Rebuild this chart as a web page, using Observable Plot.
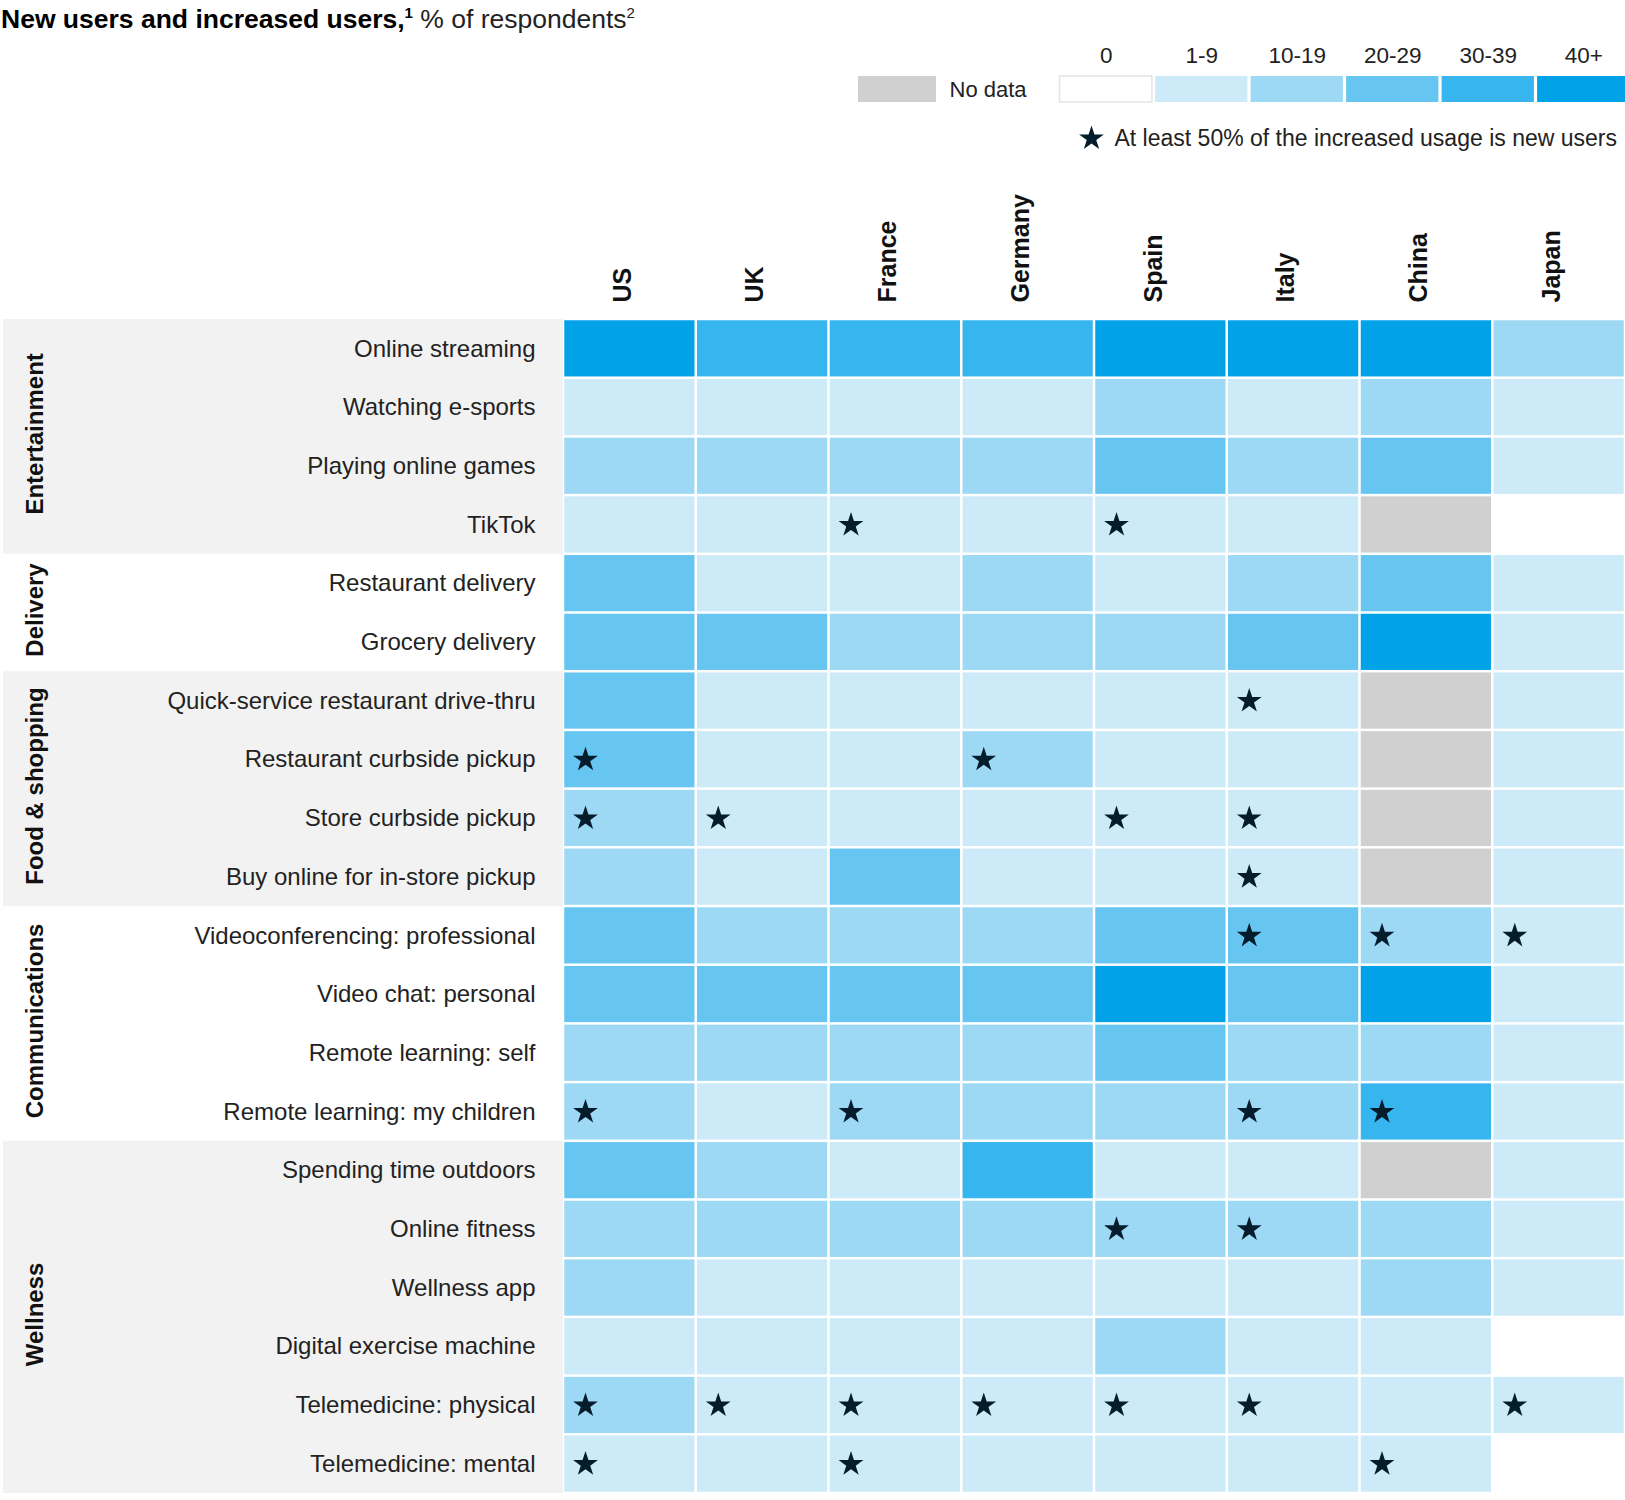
<!DOCTYPE html>
<html>
<head>
<meta charset="utf-8">
<script src="https://cdn.jsdelivr.net/npm/d3@7"></script>
<script src="https://cdn.jsdelivr.net/npm/@observablehq/plot@0.6"></script>
<style>
html, body { margin: 0; padding: 0; background: #fff; overflow: hidden; }
#wrap { position: relative; width: 1625px; height: 1500px; overflow: hidden; background: #fff; }
#wrap > div { position: absolute; }
#wrap svg { display: block; max-width: none !important; }
#title { left: 1px; top: 4px; font-family: "Liberation Sans", Arial, sans-serif; font-size: 26.5px; line-height: 30px; color: #000; white-space: nowrap; }
#title b { font-weight: bold; }
#title sup { font-size: 15px; vertical-align: 10px; line-height: 0; }
#title .light { font-weight: normal; color: #222; }
#main { left: 0; top: 0; }
#legNoData { left: 858px; top: 60px; }
#legBins { left: 1058px; top: 30px; }
#legStar { left: 1076px; top: 118px; }
</style>
</head>
<body>
<div id="wrap">
  <div id="main"></div>
  <div id="title"><b>New users and increased users,</b><sup><b>1</b></sup> <span class="light">% of respondents</span><sup class="light">2</sup></div>
  <div id="legNoData"></div>
  <div id="legBins"></div>
  <div id="legStar"></div>
</div>
<script>
// ---------- data ----------
const countries = ["US", "UK", "France", "Germany", "Spain", "Italy", "China", "Japan"];
const categories = ["Entertainment", "Delivery", "Food & shopping", "Communications", "Wellness"];
const categorySizes = [4, 2, 4, 4, 6];
const shadedCategories = ["Entertainment", "Food & shopping", "Wellness"];
const activities = [
  "Online streaming", "Watching e-sports", "Playing online games", "TikTok",
  "Restaurant delivery", "Grocery delivery",
  "Quick-service restaurant drive-thru", "Restaurant curbside pickup", "Store curbside pickup", "Buy online for in-store pickup",
  "Videoconferencing: professional", "Video chat: personal", "Remote learning: self", "Remote learning: my children",
  "Spending time outdoors", "Online fitness", "Wellness app", "Digital exercise machine", "Telemedicine: physical", "Telemedicine: mental"
];
const bins = ["0", "1-9", "10-19", "20-29", "30-39", "40+"];
const noDataLabel = "No data";
const binColors = ["#ffffff", "#cdeaf8", "#9dd9f5", "#67c6f1", "#37b5ee", "#02a2e9"];
const noDataColor = "#d0d0d0";
const shadeColor = "#f2f2f2";
const starColor = "#051c2c";
const starLegendText = "At least 50% of the increased usage is new users";

// bin index per activity (rows) x country (cols); -1 = no data
const levels = [
  [5, 4, 4, 4, 5, 5, 5, 2],
  [1, 1, 1, 1, 2, 1, 2, 1],
  [2, 2, 2, 2, 3, 2, 3, 1],
  [1, 1, 1, 1, 1, 1, -1, 0],
  [3, 1, 1, 2, 1, 2, 3, 1],
  [3, 3, 2, 2, 2, 3, 5, 1],
  [3, 1, 1, 1, 1, 1, -1, 1],
  [3, 1, 1, 2, 1, 1, -1, 1],
  [2, 1, 1, 1, 1, 1, -1, 1],
  [2, 1, 3, 1, 1, 1, -1, 1],
  [3, 2, 2, 2, 3, 3, 2, 1],
  [3, 3, 3, 3, 5, 3, 5, 1],
  [2, 2, 2, 2, 3, 2, 2, 1],
  [2, 1, 2, 2, 2, 2, 4, 1],
  [3, 2, 1, 4, 1, 1, -1, 1],
  [2, 2, 2, 2, 2, 2, 2, 1],
  [2, 1, 1, 1, 1, 1, 2, 1],
  [1, 1, 1, 1, 2, 1, 1, 0],
  [2, 1, 1, 1, 1, 1, 1, 1],
  [1, 1, 1, 1, 1, 1, 1, 0]
];
// 1 = at least 50% of the increased usage is new users
const newUserStars = [
  [0, 0, 0, 0, 0, 0, 0, 0],
  [0, 0, 0, 0, 0, 0, 0, 0],
  [0, 0, 0, 0, 0, 0, 0, 0],
  [0, 0, 1, 0, 1, 0, 0, 0],
  [0, 0, 0, 0, 0, 0, 0, 0],
  [0, 0, 0, 0, 0, 0, 0, 0],
  [0, 0, 0, 0, 0, 1, 0, 0],
  [1, 0, 0, 1, 0, 0, 0, 0],
  [1, 1, 0, 0, 1, 1, 0, 0],
  [0, 0, 0, 0, 0, 1, 0, 0],
  [0, 0, 0, 0, 0, 1, 1, 1],
  [0, 0, 0, 0, 0, 0, 0, 0],
  [0, 0, 0, 0, 0, 0, 0, 0],
  [1, 0, 1, 0, 0, 1, 1, 0],
  [0, 0, 0, 0, 0, 0, 0, 0],
  [0, 0, 0, 0, 1, 1, 0, 0],
  [0, 0, 0, 0, 0, 0, 0, 0],
  [0, 0, 0, 0, 0, 0, 0, 0],
  [1, 1, 1, 1, 1, 1, 0, 1],
  [1, 0, 1, 0, 0, 0, 1, 0]
];

// ---------- derived tables ----------
const activityCategory = categorySizes.flatMap((n, k) => Array(n).fill(categories[k]));
const rowTable = activities.map((a, i) => ({activity: a, category: activityCategory[i]}));
const cells = activities.flatMap((a, i) => countries.map((c, j) => ({
  activity: a, country: c,
  bin: levels[i][j] < 0 ? noDataLabel : bins[levels[i][j]],
  star: newUserStars[i][j] === 1
})));
let start = 0;
const categoryTable = categories.map((c, k) => {
  const n = categorySizes[k];
  const row = {category: c, mid: activities[start + n / 2]};
  start += n;
  return row;
});

const FONT = "'Liberation Sans', Arial, sans-serif";
const colorScale = {type: "ordinal", domain: [noDataLabel, ...bins], range: [noDataColor, ...binColors]};

// ---------- main chart ----------
const W = 1625, H = 1500, ML = 563, MT = 319, MB = 7, MR = 0;
const colW = (W - ML - MR) / countries.length;
const rowH = (H - MT - MB) / activities.length;

const main = Plot.plot({
  width: W, height: H,
  marginLeft: ML, marginTop: MT, marginBottom: MB, marginRight: MR,
  x: {type: "band", domain: countries, padding: 0, round: false, axis: null},
  y: {type: "band", domain: activities, padding: 0, round: false, axis: null},
  color: colorScale,
  style: {fontFamily: FONT, background: "transparent", overflow: "visible"},
  marks: [
    Plot.cell(rowTable.filter(d => shadedCategories.includes(d.category)), {
      y: "activity", fill: shadeColor, insetLeft: -(ML - 3), insetRight: W - ML - MR
    }),
    Plot.cell(cells, {x: "country", y: "activity", fill: "bin", inset: 1.25}),
    Plot.dot(cells.filter(d => d.star), {
      x: "country", y: "activity", symbol: "star", r: 7.8, fill: starColor, stroke: "none",
      dx: -colW / 2 + 22
    }),
    Plot.text(countries, {
      x: d => d, frameAnchor: "top", dy: -17, dx: -17, rotate: -90, textAnchor: "start",
      fontSize: 25, fontWeight: "bold", fill: "#111"
    }),
    Plot.text(activities, {
      y: d => d, frameAnchor: "left", dx: -28, textAnchor: "end",
      fontSize: 24, fill: "#222"
    }),
    Plot.text(categoryTable, {
      y: "mid", text: "category", frameAnchor: "left", dx: -(ML - 35), dy: -rowH / 2 - 3,
      rotate: -90, textAnchor: "middle", fontSize: 24, fontWeight: "bold", fill: "#111"
    })
  ]
});
document.getElementById("main").appendChild(main);

// ---------- legend: no data ----------
const legNoData = Plot.plot({
  width: 200, height: 42, marginLeft: 0, marginRight: 122, marginTop: 16, marginBottom: 0,
  x: {type: "band", domain: [noDataLabel], padding: 0, axis: null},
  color: colorScale,
  style: {fontFamily: FONT, background: "transparent", overflow: "visible"},
  marks: [
    Plot.cell([noDataLabel], {x: d => d, fill: d => d}),
    Plot.text([noDataLabel], {x: d => d, frameAnchor: "middle", dx: 52, textAnchor: "start", fontSize: 22, fill: "#222"})
  ]
});
document.getElementById("legNoData").appendChild(legNoData);

// ---------- legend: bins ----------
const legBins = Plot.plot({
  width: 580, height: 72, marginLeft: 0, marginRight: 7, marginTop: 46, marginBottom: 0,
  x: {type: "band", domain: bins, padding: 0, round: false, axis: null},
  color: colorScale,
  style: {fontFamily: FONT, background: "transparent", overflow: "visible"},
  marks: [
    Plot.cell(bins, {x: d => d, fill: d => d, insetLeft: 1.6, insetRight: 1.6, stroke: d => d === "0" ? "#e4e4e4" : "none", strokeWidth: 1.5}),
    Plot.text(bins, {x: d => d, frameAnchor: "top", lineAnchor: "middle", dy: -21, fontSize: 22.5, fill: "#222"})
  ]
});
document.getElementById("legBins").appendChild(legBins);

// ---------- legend: star ----------
const legStar = Plot.plot({
  width: 545, height: 40, margin: 0,
  style: {fontFamily: FONT, background: "transparent", overflow: "visible"},
  marks: [
    Plot.dot([starLegendText], {frameAnchor: "left", dx: 15, symbol: "star", r: 7.8, fill: starColor, stroke: "none"}),
    Plot.text([starLegendText], {frameAnchor: "left", dx: 38, textAnchor: "start", fontSize: 23, fill: "#222"})
  ]
});
document.getElementById("legStar").appendChild(legStar);
</script>
</body>
</html>
